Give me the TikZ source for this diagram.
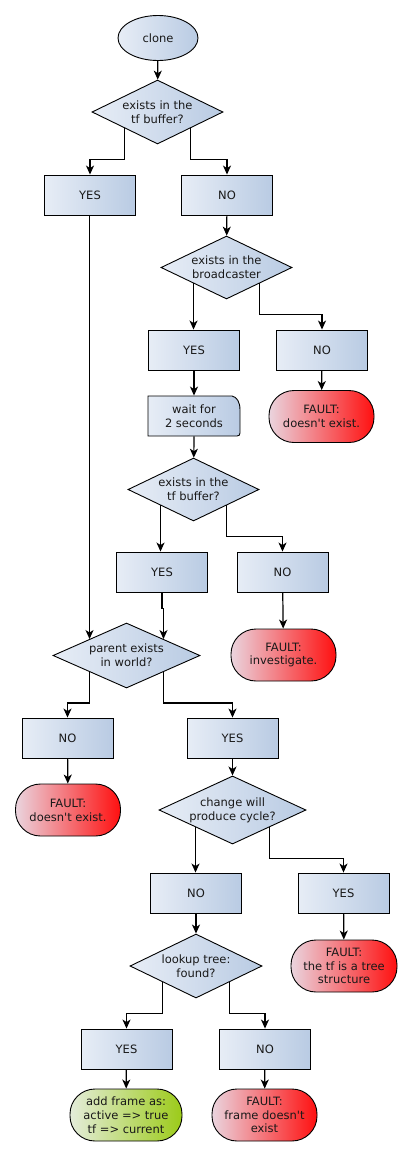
\documentclass[tikz,border=0pt]{standalone}
\usepackage{fontspec}
\setmainfont{DejaVu Sans}[Ligatures=TeXOff]
\usetikzlibrary{shapes.geometric,arrows.meta,calc}

\definecolor{boxL}{RGB}{231,237,246}
\definecolor{boxR}{RGB}{185,203,227}
\definecolor{faultL}{RGB}{234,212,222}
\definecolor{faultR}{RGB}{255,16,16}
\definecolor{okL}{RGB}{228,236,218}
\definecolor{okR}{RGB}{156,203,25}

\tikzset{
  base/.style={draw=black, line width=0.9pt, align=center, inner sep=0pt,
    font=\fontsize{11.5}{13.8}\selectfont, text=black!90},
  blue/.style={left color=boxL, right color=boxR},
  choicebox/.style={base, blue, rectangle, minimum width=91pt, minimum height=40pt},
  decision/.style={base, blue, diamond, aspect=2},
  startnode/.style={base, blue, ellipse, minimum width=80pt, minimum height=45pt},
  fault/.style={base, rectangle, rounded corners=25pt, minimum width=105pt,
    minimum height=52pt, left color=faultL, right color=faultR},
  success/.style={base, rectangle, rounded corners=25pt, minimum width=112pt,
    minimum height=52pt, left color=okL, right color=okR},
  arr/.style={draw=black, line width=1.2pt,
    -{Stealth[length=9pt,width=8pt,inset=2.5pt]}},
}

\begin{document}
\begin{tikzpicture}[x=1pt,y=-1pt]
\useasboundingbox (0,0) rectangle (412,1157);

% start and first check
\node[startnode] (clone) at (158,38) {clone};
\node[decision, minimum width=131pt, minimum height=64pt] (d1) at (157.5,112) {exists in the\\tf buffer?};
\node[choicebox] (yes1) at (90,195) {YES};
\node[choicebox] (no1) at (227,195) {NO};

% broadcaster check
\node[decision, minimum width=131pt, minimum height=63pt] (d2) at (226.5,267.5) {exists in the\\broadcaster};
\node[choicebox] (yes2) at (194,350) {YES};
\node[choicebox] (no2) at (322,350) {NO};
\node[fault] (f1) at (321.5,416.5) {FAULT:\\doesn't exist.};

% delay step
\coordinate (w) at (194,416);
\draw[line width=0.9pt, blue] ($(w)+(-46,-20)$) -- ($(w)+(38,-20)$)
  .. controls ($(w)+(43,-19)$) and ($(w)+(46,-14)$) .. ($(w)+(46,-6)$)
  -- ($(w)+(46,17)$)
  .. controls ($(w)+(46,19)$) and ($(w)+(45,20)$) .. ($(w)+(43,20)$)
  -- ($(w)+(-46,20)$) -- cycle;
\node[base, draw=none, minimum width=92pt, minimum height=40pt] (wait) at (w) {wait for\\2 seconds};

% second buffer check
\node[decision, minimum width=131pt, minimum height=63pt] (d3) at (193.5,489.5) {exists in the\\tf buffer?};
\node[choicebox] (yes3) at (162,572) {YES};
\node[choicebox] (no3) at (282.5,572) {NO};
\node[fault] (f2) at (283.5,655) {FAULT:\\investigate.};

% parent check
\node[decision, minimum width=147pt, minimum height=65pt] (d4) at (126.5,655.5) {parent exists\\in world?};
\node[choicebox] (no4) at (67.5,738) {NO};
\node[choicebox] (yes4) at (232.5,738) {YES};
\node[fault] (f3) at (68,810) {FAULT:\\doesn't exist.};

% cycle check
\node[decision, minimum width=147pt, minimum height=64pt] (d5) at (232.5,810) {change will\\produce cycle?};
\node[choicebox] (no5) at (196,893) {NO};
\node[choicebox] (yes5) at (343.5,893) {YES};
\node[fault, minimum width=106pt] (f4) at (344,966) {FAULT:\\the tf is a tree\\structure};

% tree lookup
\node[decision, minimum width=132pt, minimum height=64pt] (d6) at (196,966) {lookup tree:\\found?};
\node[choicebox] (yes6) at (126.5,1049) {YES};
\node[choicebox] (no6) at (265,1049) {NO};
\node[success] (ok) at (126,1115) {add frame as:\\active => true\\tf => current};
\node[fault] (f5) at (264.5,1115) {FAULT:\\frame doesn't\\exist};

% points on the lower and upper edges of the decisions
\foreach \d in {d1,d2,d3,d4,d5,d6}{
  \coordinate (\d sw) at ($(\d.west)!0.5!(\d.south)$);
  \coordinate (\d se) at ($(\d.east)!0.5!(\d.south)$);
}
\coordinate (d4nw) at ($(d4.west)!0.5!(d4.north)$);
\coordinate (d4ne) at ($(d4.east)!0.5!(d4.north)$);

% levels of the horizontal runs
\coordinate (m1) at ($(d1.south)!0.5!(yes1.north)$);
\coordinate (m2) at ($(d2.south)!0.5!(yes2.north)$);
\coordinate (m3) at ($(d3.south)!0.5!(yes3.north)$);
\coordinate (m4) at ($(d4.south)!0.5!(no4.north)$);
\coordinate (m5) at ($(d5.south)!0.5!(no5.north)$);
\coordinate (m6) at ($(d6.south)!0.5!(yes6.north)$);

% connectors
\draw[arr] (clone) -- (d1);
\draw[arr] (d1sw) -- (d1sw |- m1) -| (yes1.north);
\draw[arr] (d1se) -- (d1se |- m1) -| (no1.north);
\draw[arr] (no1) -- (d2);
\draw[arr] (d2sw) -- (d2sw |- yes2.north);
\draw[arr] (d2se) -- (d2se |- m2) -| (no2.north);
\draw[arr] (no2) -- (f1);
\draw[arr] (yes2) -- (wait.north);
\draw[arr] (wait.south) -- (d3);
\draw[arr] (d3sw) -- (d3sw |- yes3.north);
\draw[arr] (d3se) -- (d3se |- m3) -| (no3.north);
\draw[arr] (no3) -- (f2);
\draw[arr] (d4nw |- yes1.south) -- (d4nw);
\draw[arr] (yes3.south) -- ++(0,16) -| (d4ne);
\draw[arr] (d4sw) -- (d4sw |- m4) -| (no4.north);
\draw[arr] (d4se) -- (d4se |- m4) -| (yes4.north);
\draw[arr] (no4) -- (f3);
\draw[arr] (yes4) -- (d5);
\draw[arr] (d5sw) -- (d5sw |- no5.north);
\draw[arr] (d5se) -- (d5se |- m5) -| (yes5.north);
\draw[arr] (yes5) -- (f4);
\draw[arr] (no5) -- (d6);
\draw[arr] (d6sw) -- (d6sw |- m6) -| (yes6.north);
\draw[arr] (d6se) -- (d6se |- m6) -| (no6.north);
\draw[arr] (yes6) -- (ok);
\draw[arr] (no6) -- (f5);
\end{tikzpicture}
\end{document}
